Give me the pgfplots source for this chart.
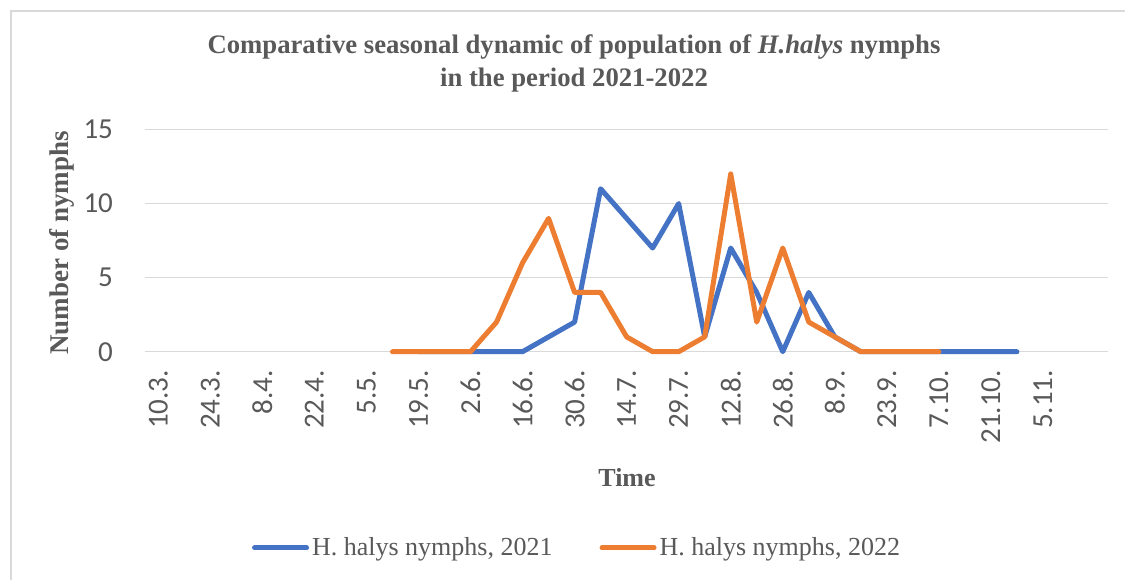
\documentclass[border=0pt]{standalone}
\usepackage{pgfplots}
\pgfplotsset{compat=1.18}
\usepackage{pgfplotstable}
\usepackage{fontspec}
\setmainfont{Liberation Serif}
\newfontfamily\carlito{Carlito}
\definecolor{cblue}{HTML}{4472C4}
\definecolor{corange}{HTML}{ED7D31}
\definecolor{txtgray}{HTML}{595959}
\definecolor{gridgray}{HTML}{D9D9D9}
\definecolor{bordergray}{HTML}{D9D9D9}

\pgfplotstableread{
x y
10 0
11 0
12 0
13 0
14 0
15 1
16 2
17 11
18 9
19 7
20 10
21 1
22 7
23 4
24 0
25 4
26 1
27 0
28 0
29 0
30 0
31 0
32 0
33 0
}\blueData

\pgfplotstableread{
x y
9 0
10 0
11 0
12 0
13 2
14 6
15 9
16 4
17 4
18 1
19 0
20 0
21 1
22 12
23 2
24 7
25 2
26 1
27 0
28 0
29 0
30 0
}\orangeData

\begin{document}
\begin{tikzpicture}
\useasboundingbox (0,0) rectangle (562.5pt,290pt);
\fill[white] (0,0) rectangle (562.5pt,290pt);
\draw[bordergray, line width=0.75pt] (5.5pt,0) -- (5.5pt,284.5pt) -- (562.5pt,284.5pt);
\begin{axis}[
  at={(72.65pt,114.15pt)}, anchor=south west,
  scale only axis,
  width=481.35pt, height=111.1pt,
  xmin=-0.5, xmax=36.5,
  ymin=0, ymax=15,
  axis line style={draw=none},
  major tick length=0pt,
  tick style={draw=none},
  ymajorgrids,
  grid style={gridgray, line width=0.75pt},
  ytick={0,5,10,15},
  xtick={0,2,...,34},
  xticklabels={10.3.,24.3.,8.4.,22.4.,5.5.,19.5.,2.6.,16.6.,30.6.,14.7.,29.7.,12.8.,26.8.,8.9.,23.9.,7.10.,21.10.,5.11.},
  xticklabel style={rotate=90, anchor=east, inner sep=0pt, font=\carlito\fontsize{14.5}{16}\selectfont, text=txtgray, xshift=0pt},
  xticklabel shift=9pt,
  yticklabel style={anchor=east, inner sep=0pt, font=\carlito\fontsize{14.5}{16}\selectfont, text=txtgray, xshift=-16pt},
  /pgf/number format/assume math mode=true,
  xlabel={Time},
  xlabel style={at={(axis description cs:0.5004,-0.568)}, anchor=center, font=\bfseries\fontsize{13}{15}\selectfont, text=txtgray},
  ylabel={Number of nymphs},
  ylabel style={at={(axis description cs:-0.0865,0.49)}, anchor=center, font=\bfseries\fontsize{13.5}{15}\selectfont, text=txtgray},
  title={Comparative seasonal dynamic of population of \textit{H.halys} nymphs\\in the period 2021-2022},
  title style={at={(axis description cs:0.4453,1.243)}, anchor=center, align=center, font=\bfseries\fontsize{13.35}{16.5}\selectfont, text=txtgray},
  legend columns=2,
  legend style={at={(axis description cs:0.449,-0.883)}, anchor=center, draw=none, fill=none,
    font=\fontsize{13}{15}\selectfont, text=txtgray,
    /tikz/every even column/.append style={column sep=22pt},
    nodes={inner xsep=1.5pt}},
  legend image code/.code={\draw[#1, line width=2.5pt, line cap=round] (0pt,0pt) -- (26pt,0pt);},
  clip=false,
]
\addplot[cblue, line width=2.5pt, line join=round, line cap=round] table[x=x,y=y] {\blueData};
\addlegendentry{H. halys nymphs, 2021}
\addplot[corange, line width=2.5pt, line join=round, line cap=round] table[x=x,y=y] {\orangeData};
\addlegendentry{H. halys nymphs, 2022}
\end{axis}
\end{tikzpicture}
\end{document}
